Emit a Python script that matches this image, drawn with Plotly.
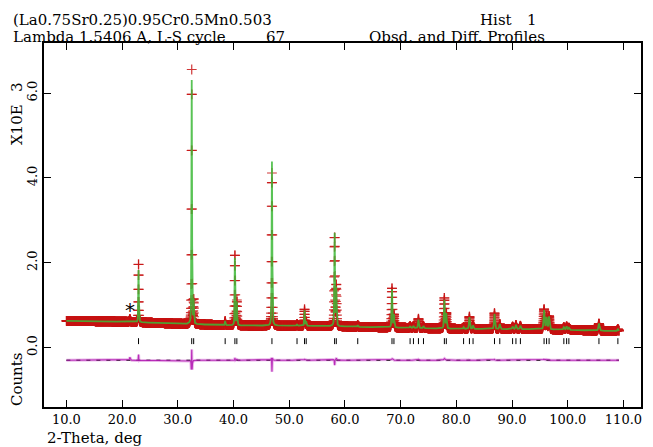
import numpy as np
import plotly.graph_objects as go

# ---- data -------------------------------------------------------------
# background knots (2-theta, counts x10^3)
bg_tth = [10.0, 20.0, 26.0, 30.0, 40.0, 55.0, 65.0, 80.0, 95.0, 102.0, 109.2]
bg_cnt = [0.63, 0.61, 0.58, 0.56, 0.52, 0.51, 0.48, 0.44, 0.43, 0.41, 0.38]

# reflection positions (2-theta) and calculated peak heights above background
refl_pos = [22.95, 32.50, 32.85, 38.50, 40.25, 40.60, 46.90, 51.40, 52.75, 53.05,
            58.15, 58.45, 62.30, 68.45, 68.80, 71.70, 72.30, 73.20, 74.10, 77.85,
            78.20, 81.30, 82.35, 83.00, 86.85, 87.80, 90.10, 90.70, 91.50, 95.75,
            96.20, 96.65, 99.30, 99.80, 100.20, 105.60, 109.00]
calc_h = [1.26, 5.75, 0.55, 0.10, 1.62, 0.55, 3.87, 0.04, 0.37, 0.10,
          2.22, 0.90, 0.04, 0.90, 0.30, 0.04, 0.05, 0.20, 0.05, 0.68,
          0.35, 0.04, 0.28, 0.08, 0.36, 0.12, 0.06, 0.10, 0.08, 0.45,
          0.28, 0.30, 0.06, 0.08, 0.05, 0.17, 0.05]
# observed peak heights and relative widths
obs_h = [1.40, 6.00, 0.55, 0.10, 1.68, 0.58, 3.60, 0.04, 0.39, 0.10,
         2.10, 0.95, 0.04, 0.93, 0.30, 0.04, 0.05, 0.22, 0.05, 0.72,
         0.36, 0.04, 0.29, 0.08, 0.38, 0.12, 0.06, 0.10, 0.08, 0.47,
         0.30, 0.31, 0.06, 0.08, 0.05, 0.17, 0.05]
obs_wf = [0.95, 0.92, 1.0, 1.0, 0.98, 1.0, 1.06, 1.0, 1.0, 1.0,
          1.04, 1.0, 1.0, 1.03, 1.0, 1.0, 1.0, 1.0, 1.0, 1.02,
          1.0, 1.0, 1.0, 1.0, 1.0, 1.0, 1.0, 1.0, 1.0, 1.03,
          1.0, 1.0, 1.0, 1.0, 1.0, 1.0, 1.0]
# impurity reflection (marked with *)
imp_pos = [21.4]
imp_h = [0.07]

# Caglioti profile parameters (deg^2) and pseudo-Voigt mixing
U, V, W = 0.030, 0.0, 0.012
ETA = 0.4
STEP = 0.02
TTH_MIN, TTH_MAX = 10.0, 109.2
DIFF_OFFSET = -0.30

# ---- profile ----------------------------------------------------------
tth = np.arange(TTH_MIN, TTH_MAX + STEP / 2, STEP)
bg = np.interp(tth, bg_tth, bg_cnt)


def pv(x, x0, fwhm):
    g = np.exp(-4 * np.log(2) * ((x - x0) / fwhm) ** 2)
    lo = 1.0 / (1.0 + 4 * ((x - x0) / fwhm) ** 2)
    return ETA * lo + (1 - ETA) * g


def fwhm_at(p):
    t = np.tan(np.radians(p / 2))
    return np.sqrt(U * t * t + V * t + W)


calc = bg.copy()
obs = bg.copy()
for p, hc, ho, wf in zip(refl_pos, calc_h, obs_h, obs_wf):
    f = fwhm_at(p)
    calc += hc * pv(tth, p, f)
    obs += ho * pv(tth, p, f * wf)
for p, h in zip(imp_pos, imp_h):
    obs += h * pv(tth, p, fwhm_at(p) * 1.5)

diff = obs - calc + DIFF_OFFSET

# ---- figure -----------------------------------------------------------
FONT = "DejaVu Serif"
fig = go.Figure()

fig.add_trace(go.Scatter(
    x=tth, y=obs, mode="markers",
    marker=dict(symbol="cross-thin", size=7,
                line=dict(width=1.2, color="rgba(200,20,20,0.85)")),
    hoverinfo="skip"))
fig.add_trace(go.Scatter(
    x=tth, y=calc, mode="lines",
    line=dict(color="rgba(60,185,55,0.85)", width=1.8), hoverinfo="skip"))

# reflection tick marks
tx, ty = [], []
for p in refl_pos:
    tx += [p, p, None]
    ty += [0.08, 0.22, None]
fig.add_trace(go.Scatter(x=tx, y=ty, mode="lines",
                         line=dict(color="black", width=1), hoverinfo="skip"))

# difference curve
fig.add_trace(go.Scatter(
    x=tth, y=diff, mode="lines",
    line=dict(color="rgba(200,70,200,0.4)", width=3), hoverinfo="skip"))
fig.add_trace(go.Scatter(x=[TTH_MIN, TTH_MAX], y=[DIFF_OFFSET, DIFF_OFFSET],
                         mode="lines", line=dict(color="black", width=1, dash="4px,6px"),
                         hoverinfo="skip"))
fig.add_trace(go.Scatter(
    x=tth, y=diff, mode="lines",
    line=dict(color="rgba(180,30,180,0.9)", width=1.1), hoverinfo="skip"))

# plot area in pixels
L, R, T, B = 44, 10, 43, 40
W_PX, H_PX = 653, 447
PW, PH = W_PX - L - R, H_PX - T - B


def px(xp):
    return (xp - L) / PW


def py(yp):
    return (H_PX - B - yp) / PH


# header and axis captions: (text, x px, centre y px, anchor)
captions = [
    ("(La0.75Sr0.25)0.95Cr0.5Mn0.503", 11, 20, "left"),
    ("Hist", 498, 20, "center"), ("1", 534, 20, "center"),
    ("Lambda 1.5406 A, L-S cycle", 11, 37, "left"), ("67", 276, 37, "center"),
    ("Obsd. and Diff. Profiles", 458, 37, "center"),
    ("2-Theta, deg", 45, 438, "left"),
]
for text, x0, y0, anc in captions:
    fig.add_annotation(text=text, x=px(x0), y=py(y0), xref="paper", yref="paper",
                       xanchor=anc, yanchor="middle", showarrow=False,
                       font=dict(family=FONT, size=15, color="black"))

# rotated y captions: (text, centre x px, centre y px)
for text, x0, y0 in [("X10E", 17, 125), ("3", 17, 87), ("Counts", 17, 379)]:
    fig.add_annotation(text=text, x=px(x0), y=py(y0), xref="paper", yref="paper",
                       xanchor="center", yanchor="middle", textangle=-90,
                       showarrow=False, font=dict(family=FONT, size=15, color="black"))

fig.add_annotation(text="*", x=imp_pos[0], y=0.88, xref="x", yref="y",
                   showarrow=False, font=dict(family="DejaVu Sans", size=20,
                                              color="black"))

axis_common = dict(showline=True, linecolor="black", linewidth=1.5, mirror="ticks",
                   ticks="inside", ticklen=7, tickwidth=1, tickcolor="black",
                   showgrid=False, zeroline=False,
                   tickfont=dict(family=FONT, size=13, color="black"))
fig.update_xaxes(range=[5.98, 113.15], tickvals=list(range(10, 111, 10)),
                 ticktext=[f"{v:.1f}" for v in range(10, 111, 10)], **axis_common)
fig.update_yaxes(range=[-1.403, 7.181], tickvals=[0, 2, 4, 6],
                 ticktext=["0.0", "2.0", "4.0", "6.0"], tickangle=-90,
                 **axis_common)

fig.update_layout(width=W_PX, height=H_PX, showlegend=False,
                  margin=dict(l=L, r=R, t=T, b=B),
                  paper_bgcolor="white", plot_bgcolor="white")

fig.write_html("out.html")
